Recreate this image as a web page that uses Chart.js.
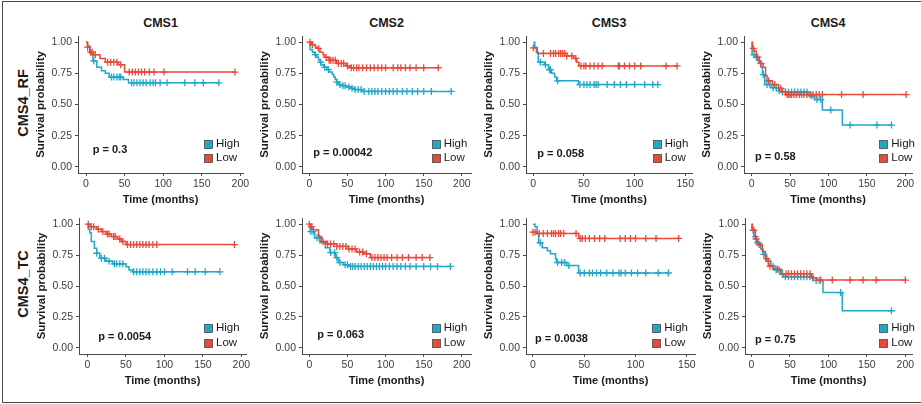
<!DOCTYPE html>
<html><head><meta charset="utf-8">
<script src="https://cdn.jsdelivr.net/npm/chart.js@4.4.1/dist/chart.umd.min.js"></script>
<style>
html,body{margin:0;padding:0;background:#fff;width:921px;height:404px;overflow:hidden;font-family:"Liberation Sans",Arial,sans-serif;}
#frame{position:absolute;left:2px;top:1px;width:930px;height:399.5px;border-left:1.5px solid #4a4a4a;border-top:1.5px solid #4a4a4a;border-bottom:1.5px solid #4a4a4a;}
canvas{position:absolute;}
.coltitle{position:absolute;font-weight:bold;font-size:12.5px;color:#1a1a1a;transform:translate(-50%,-50%);white-space:nowrap;}
.rowlabel{position:absolute;font-weight:bold;font-size:14.5px;color:#1a1a1a;transform:translate(-50%,-50%) rotate(-90deg);white-space:nowrap;}
</style></head><body>
<div id="frame"></div>
<script>
// ---------------- DATA ----------------
const columnTitles = ['CMS1', 'CMS2', 'CMS3', 'CMS4'];
const rowLabels = ['CMS4_RF', 'CMS4_TC'];
const groupLabels = ['High', 'Low'];
const yTicks = [0, 0.25, 0.5, 0.75, 1];
const xTicks200 = [0, 50, 100, 150, 200];
const xTicks150 = [0, 50, 100, 150];
const pValues = ['0.3', '0.00042', '0.058', '0.58', '0.0054', '0.063', '0.0038', '0.75'];

// Survival steps [time (months), survival probability] and censor times
const rfCms1High = [[0,1],[2,0.97],[5,0.91],[9,0.85],[14,0.80],[20,0.77],[25,0.75],[30,0.72],[48,0.70],[55,0.674]];
const rfCms1HighCensor = [10,33,36,40,43,45,59,62,66,70,74,78,83,87,90,96,105,128,141,152,172];
const rfCms1Low = [[0,1],[2,0.96],[5,0.92],[9,0.90],[18,0.87],[25,0.84],[42,0.82],[50,0.76]];
const rfCms1LowCensor = [2,6,8,12,28,32,36,40,45,56,60,64,68,72,76,82,88,101,193];

const rfCms2High = [[0,1],[1,0.94],[4,0.92],[7,0.90],[10,0.88],[12,0.86],[14,0.84],[16,0.82],[19,0.80],[23,0.78],[26,0.76],[30,0.74],[32,0.72],[34,0.70],[36,0.68],[38,0.66],[44,0.65],[48,0.64],[55,0.63],[60,0.62],[69,0.605]];
const rfCms2HighCensor = [8,15,20,25,36,40,44,47,52,56,60,64,68,72,78,82,86,90,95,100,105,110,115,122,128,135,142,150,160,186];
const rfCms2Low = [[0,1],[3,0.98],[8,0.96],[10,0.95],[14,0.92],[18,0.90],[20,0.88],[25,0.855],[36,0.83],[48,0.81],[55,0.795]];
const rfCms2LowCensor = [1,4,12,22,26,28,31,34,38,42,45,50,55,58,62,65,70,75,80,85,90,95,100,110,116,120,126,132,140,150,169];

const rfCms3High = [[0,1],[1.5,0.96],[3,0.92],[5,0.84],[11,0.82],[15,0.78],[18,0.75],[21,0.72],[23,0.69],[44.5,0.66]];
const rfCms3HighCensor = [7,12,16,17,24,46,50,53,56,60,62,64,73,80,86,92,100,110,118,123];
const rfCms3Low = [[0,0.955],[4,0.91],[33,0.89],[40,0.87],[43,0.84],[45,0.81]];
const rfCms3LowCensor = [0,10,17,20,22,25,27,29,31,33,38,42,47,50,52,56,60,64,68,84,85,90,95,100,106,131,142];

const rfCms4High = [[0,1],[0.5,0.90],[5,0.88],[8,0.85],[12,0.80],[14,0.74],[17,0.66],[25,0.635],[35,0.61],[40,0.60],[75,0.57],[82,0.54],[92,0.455],[118,0.335]];
const rfCms4HighCensor = [3,6,15,20,24,28,32,36,40,44,48,52,56,60,64,68,72,78,85,90,103,128,163,182];
const rfCms4Low = [[0,1],[1,0.95],[3,0.93],[6,0.88],[10,0.83],[15,0.80],[18,0.73],[20,0.69],[27,0.66],[35,0.63],[40,0.60],[45,0.58]];
const rfCms4LowCensor = [2,8,12,22,30,38,44,46,48,50,52,55,58,62,65,68,72,76,80,84,88,92,117,145,201];

const tcCms1High = [[0,1],[1,0.96],[3,0.93],[5,0.86],[9,0.805],[12,0.765],[16,0.725],[24,0.70],[33,0.68],[50,0.656],[54,0.63],[59,0.615]];
const tcCms1HighCensor = [12,18,22,28,35,38,42,46,60,64,68,72,76,80,85,90,95,100,110,130,140,153,172];
const tcCms1Low = [[0,1],[3,0.98],[12,0.96],[18,0.94],[24,0.92],[31,0.90],[39,0.88],[44,0.86],[50,0.835]];
const tcCms1LowCensor = [1,5,8,14,20,26,28,34,36,42,46,52,56,60,64,68,72,76,80,85,90,191];

const tcCms2High = [[0,1],[1,0.94],[7,0.89],[14,0.85],[21,0.81],[27,0.77],[34,0.73],[38,0.69],[45,0.672],[54,0.658]];
const tcCms2HighCensor = [2,5,10,13,28,33,36,40,47,50,54,57,60,64,68,72,76,80,84,88,92,96,100,105,110,115,120,126,132,140,150,159,168,185];
const tcCms2Low = [[0,1],[0.5,0.98],[5,0.955],[12,0.90],[16,0.86],[23,0.84],[36,0.82],[51,0.80],[62,0.775],[71,0.76],[80,0.73]];
const tcCms2LowCensor = [0,3,18,24,28,32,36,40,44,48,52,56,60,66,70,75,82,86,90,94,98,102,108,115,122,130,140,148,158];

const tcCms3High = [[0,1],[2,0.98],[4,0.92],[5.5,0.85],[9,0.81],[14,0.785],[17,0.76],[22,0.72],[23,0.69],[33,0.665],[44.5,0.605]];
const tcCms3HighCensor = [7,24,28,31,35,46,50,55,58,62,66,72,78,84,86,90,96,102,110,122,132];
const tcCms3Low = [[0,0.935],[4,0.925],[44.5,0.885]];
const tcCms3LowCensor = [0,2,6,10,14,18,20,22,25,27,30,42,46,48,51,55,60,65,70,85,90,95,100,110,120,142];

const tcCms4High = [[0,1],[0.5,0.95],[3,0.90],[6,0.85],[12,0.80],[15,0.755],[19,0.70],[25,0.66],[30,0.63],[40,0.595],[42,0.575],[80,0.545],[93,0.447],[118,0.30]];
const tcCms4HighCensor = [2,5,8,16,22,28,32,36,40,44,48,52,56,60,64,68,72,76,84,88,116,182];
const tcCms4Low = [[0,1],[1,0.95],[5,0.88],[8,0.835],[14,0.78],[18,0.72],[22,0.66],[28,0.635],[38,0.60],[78,0.567],[85,0.548]];
const tcCms4LowCensor = [3,6,10,20,24,34,45,48,52,56,60,64,68,72,76,80,90,105,128,145,162,200];

// ---------------- LAYOUT / STYLE ----------------
const HIGH_COLOR = '#1FA8CA';
const LOW_COLOR = '#E64A3B';
const FONT = '"Liberation Sans", Arial, sans-serif';

const panels = [
  {hi: rfCms1High, hiC: rfCms1HighCensor, lo: rfCms1Low, loC: rfCms1LowCensor, L:78,  R:243, T:36,  B:173, xmin:-10.4, xmax:203.4, xt:xTicks200, legX:204,   legY:[144,157.5], pX:92.7,  pY:150},
  {hi: rfCms2High, hiC: rfCms2HighCensor, lo: rfCms2Low, loC: rfCms2LowCensor, L:302, R:471, T:36,  B:173, xmin:-9.6,  xmax:212,   xt:xTicks200, legX:431.7, legY:[144,157.5], pX:313.3, pY:152.7},
  {hi: rfCms3High, hiC: rfCms3HighCensor, lo: rfCms3Low, loC: rfCms3LowCensor, L:526, R:692, T:36,  B:173, xmin:-7.2,  xmax:156.7, xt:xTicks150, legX:652.7, legY:[144,157.5], pX:537.3, pY:154},
  {hi: rfCms4High, hiC: rfCms4HighCensor, lo: rfCms4Low, loC: rfCms4LowCensor, L:744, R:912, T:36,  B:173, xmin:-10,   xmax:208.7, xt:xTicks200, legX:879.3, legY:[144,157.5], pX:755,   pY:156.7},
  {hi: tcCms1High, hiC: tcCms1HighCensor, lo: tcCms1Low, loC: tcCms1LowCensor, L:79,  R:246, T:218, B:354, xmin:-11,   xmax:206,   xt:xTicks200, legX:204,   legY:[328.3,342.5], pX:98.3,  pY:336.7},
  {hi: tcCms2High, hiC: tcCms2HighCensor, lo: tcCms2Low, loC: tcCms2LowCensor, L:302, R:471, T:218, B:354, xmin:-9.6,  xmax:212,   xt:xTicks200, legX:431.7, legY:[328.3,342.5], pX:317.3, pY:335},
  {hi: tcCms3High, hiC: tcCms3HighCensor, lo: tcCms3Low, loC: tcCms3LowCensor, L:526, R:695, T:218, B:354, xmin:-6.8,  xmax:158,   xt:xTicks150, legX:652.3, legY:[328.3,342.5], pX:535,   pY:339.3},
  {hi: tcCms4High, hiC: tcCms4HighCensor, lo: tcCms4Low, loC: tcCms4LowCensor, L:745, R:912, T:218, B:354, xmin:-8.5,  xmax:208.7, xt:xTicks200, legX:879.3, legY:[328.3,342.5], pX:755,   pY:340}
];
const YAXIS_W = 70, XAXIS_H = 40, PAD_T = 10, PAD_R = 12;

// column titles & row labels (HTML text)
columnTitles.forEach((t, i) => {
  const p = panels[i];
  const d = document.createElement('div');
  d.className = 'coltitle'; d.textContent = t;
  d.style.left = ((p.L + p.R) / 2) + 'px'; d.style.top = '23.3px';
  document.body.appendChild(d);
});
rowLabels.forEach((t, i) => {
  const d = document.createElement('div');
  d.className = 'rowlabel'; d.textContent = t;
  d.style.left = '23.3px'; d.style.top = (i === 0 ? 102.5 : 284) + 'px';
  document.body.appendChild(d);
});

function survAt(steps, t) {
  let s = steps[0][1];
  for (const [tt, ss] of steps) if (tt <= t) s = ss;
  return s;
}
function lineData(steps, cens) {
  const pts = steps.map(([x, y]) => ({x, y}));
  const last = Math.max(...cens);
  const lt = steps[steps.length - 1][0];
  if (last > lt) pts.push({x: last, y: steps[steps.length - 1][1]});
  return pts;
}
function censorData(steps, cens) {
  return cens.map(t => ({x: t, y: survAt(steps, t)}));
}

function makeOverlay(p, pval, cx, cy) {
  return {
    id: 'overlay',
    afterDraw(chart) {
      const ctx = chart.ctx;
      ctx.save();
      ctx.textBaseline = 'middle'; ctx.textAlign = 'left';
      ctx.font = 'bold 11px ' + FONT;
      ctx.fillStyle = '#1a1a1a';
      ctx.fillText('p = ' + pval, p.pX - cx, p.pY - cy);
      const cols = [HIGH_COLOR, LOW_COLOR];
      p.legY.forEach((y, i) => {
        const sx = Math.round(p.legX - cx) + 0.5, sy = Math.round(y - cy - 4) + 0.5;
        ctx.fillStyle = cols[i];
        ctx.fillRect(sx, sy, 8, 8);
        ctx.strokeStyle = '#4a4a4a'; ctx.lineWidth = 0.8;
        ctx.strokeRect(sx, sy, 8, 8);
        ctx.fillStyle = '#1a1a1a';
        ctx.font = '11.5px ' + FONT;
        ctx.fillText(groupLabels[i], p.legX + 12 - cx, y - cy);
      });
      ctx.restore();
    }
  };
}

panels.forEach((p, idx) => {
  const cx = p.L - YAXIS_W, cy = p.T - PAD_T;
  const w = p.R - p.L + YAXIS_W + PAD_R, h = p.B - p.T + PAD_T + XAXIS_H;
  const cv = document.createElement('canvas');
  cv.width = w; cv.height = h;
  cv.style.left = cx + 'px'; cv.style.top = cy + 'px';
  cv.style.width = w + 'px'; cv.style.height = h + 'px';
  document.body.appendChild(cv);

  const lineDs = (steps, cens, color, label) => ({
    label, data: lineData(steps, cens), borderColor: color, borderWidth: 1.5,
    stepped: true, pointRadius: 0, fill: false, tension: 0
  });
  const censDs = (steps, cens, color, label) => ({
    label, data: censorData(steps, cens), borderColor: color, backgroundColor: color,
    showLine: false, pointStyle: 'cross', pointRadius: 3.5, borderWidth: 1.3, pointHoverRadius: 3.5
  });

  new Chart(cv, {
    type: 'line',
    data: {
      datasets: [
        censDs(p.lo, p.loC, LOW_COLOR, 'Low censored'),
        lineDs(p.lo, p.loC, LOW_COLOR, 'Low'),
        censDs(p.hi, p.hiC, HIGH_COLOR, 'High censored'),
        lineDs(p.hi, p.hiC, HIGH_COLOR, 'High')
      ]
    },
    options: {
      responsive: false, animation: false, devicePixelRatio: 1,
      layout: {padding: {left: 0, top: PAD_T, right: PAD_R, bottom: 0}},
      plugins: {legend: {display: false}, tooltip: {enabled: false}},
      events: [],
      scales: {
        x: {
          type: 'linear', min: p.xmin, max: p.xmax,
          afterBuildTicks: s => { s.ticks = p.xt.map(v => ({value: v})); },
          afterFit: s => { s.height = XAXIS_H; },
          ticks: {autoSkip: false, maxRotation: 0, padding: 1.5, color: '#3d3d3d',
                  font: {family: FONT, size: 10.5}, callback: v => String(v)},
          grid: {display: true, drawOnChartArea: false, drawTicks: true, tickLength: 3, color: '#4a4a4a', lineWidth: 1},
          border: {display: true, color: '#4a4a4a', width: 1},
          title: {display: true, text: 'Time (months)', color: '#1a1a1a',
                  font: {family: FONT, size: 11, weight: 'bold'}, padding: {top: 0, bottom: 6.4}}
        },
        y: {
          type: 'linear', min: -0.05, max: 1.05,
          afterBuildTicks: s => { s.ticks = yTicks.map(v => ({value: v})); },
          afterFit: s => { s.width = YAXIS_W; },
          ticks: {autoSkip: false, padding: 3, color: '#3d3d3d',
                  font: {family: FONT, size: 10.5}, callback: v => Number(v).toFixed(2)},
          grid: {display: true, drawOnChartArea: false, drawTicks: true, tickLength: 3, color: '#4a4a4a', lineWidth: 1},
          border: {display: true, color: '#4a4a4a', width: 1},
          title: {display: true, text: 'Survival probability', color: '#1a1a1a',
                  font: {family: FONT, size: 11.5, weight: 'bold'}, padding: {top: 26.1, bottom: 0}}
        }
      }
    },
    plugins: [makeOverlay(p, pValues[idx], cx, cy)]
  });
});
</script>
</body></html>
